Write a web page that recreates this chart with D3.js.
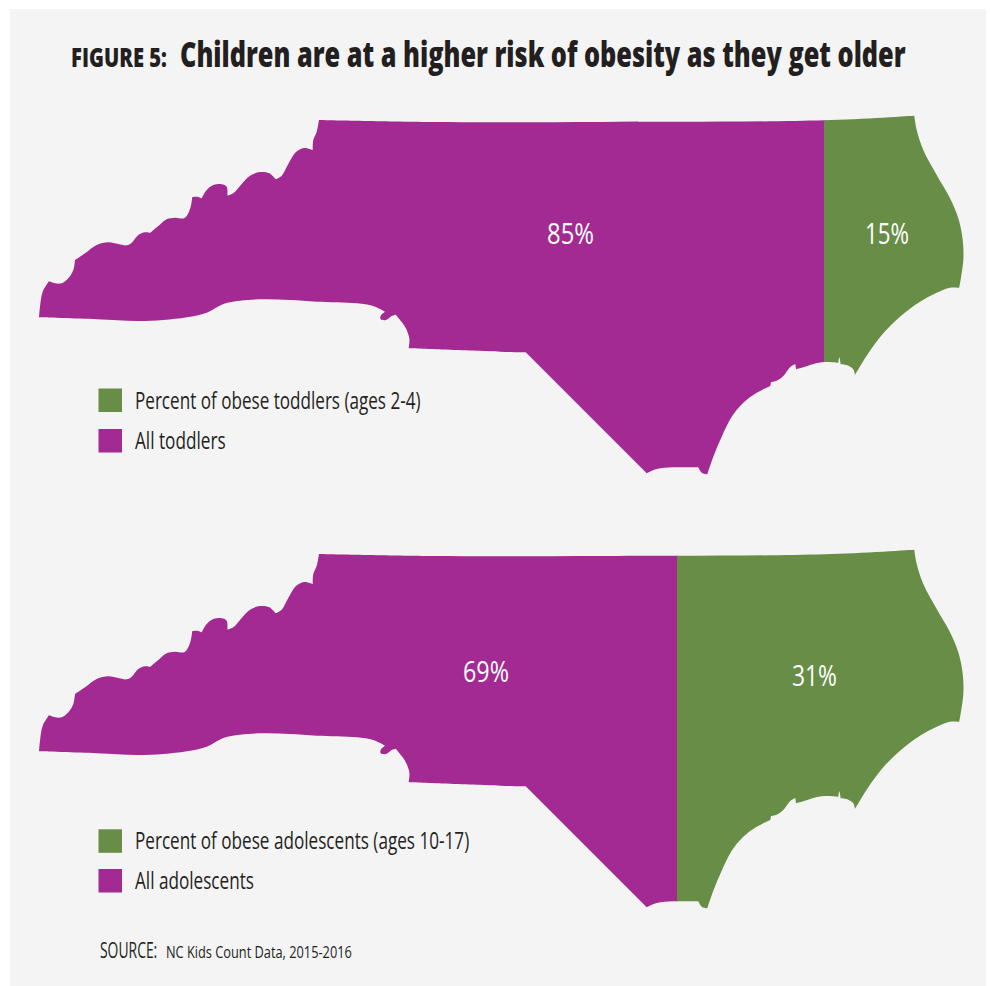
<!DOCTYPE html>
<html>
<head>
<meta charset="utf-8">
<script src="https://cdn.jsdelivr.net/npm/d3@7"></script>
<style>
html,body{margin:0;padding:0;background:#fff;}
svg{display:block;}
text{font-family:"Open Sans","Noto Sans",sans-serif;}
</style>
</head>
<body>
<div id="chart"></div>
<script>
// ---- data ----
const panels = ["toddlers", "adolescents"];
const obesePct = [15, 31];
const allPct = [85, 69];
const obeseLegend = ["Percent of obese toddlers (ages 2-4)", "Percent of obese adolescents (ages 10-17)"];
const allLegend = ["All toddlers", "All adolescents"];
const titleLead = "FIGURE 5:";
const titleMain = "Children are at a higher risk of obesity as they get older";
const sourceLead = "SOURCE:";
const sourceMain = "NC Kids Count Data, 2015-2016";

// State outline in map units; each run is smooth, corners sit between runs.
const outlineRuns = [
  [[39,317.3],[40,306.7],[42.7,291.7],[49,281.3]],
  [[49,281.3],[55,283.3],[61.7,283.3],[68.3,278.3],[73.3,270],[75,260]],
  [[75,260],[85,253.3],[96.7,245],[108.3,242.3],[118.3,244],[126.7,245.3],[131.7,242.7],[138.3,235],[145,232.3],[150,233]],
  [[150,233],[158.3,226],[166.7,219.3],[175,217.7],[184,218.3],[187.3,215],[190.7,206.7],[192.3,197]],
  [[192.3,197],[196.7,196.7],[201.7,198.3]],
  [[201.7,198.3],[206.7,190],[213.3,185],[221.7,184.3],[226.7,186.7],[227.3,195.7]],
  [[227.3,195.7],[233.3,193.3],[241.7,184],[250,175.7],[260,172],[269.3,173.3],[275.7,179.3]],
  [[275.7,179.3],[281.7,175.7],[288.3,164],[295.7,152.3],[304,148],[312.7,150]],
  [[312.7,150],[313.3,140],[316.7,131.7],[319,120]],
  [[319,120],[430,122],[600,122],[824.3,120.3],[914.3,115.7]],
  [[914.3,115.7],[916.7,130],[923.3,150],[936.7,175],[950,198.3],[958.3,218.3],[962.7,240],[963.3,260],[959.3,287.7]],
  [[959.3,287.7],[950,287.7],[936.7,292.7],[920,301.7],[900,316.7],[883.3,333.3],[868.3,353.3],[855,375]],
  [[855,375],[853.3,369.3],[848.3,365.7],[840.7,364.3]],
  [[840.7,364.3],[839.3,357.3],[838.3,362.7]],
  [[838.3,362.7],[824.3,362],[813.3,364],[803.3,367.3],[796,369.3]],
  [[796,369.3],[795.3,364]],
  [[795.3,364],[790,367.3],[783.3,376],[776.7,380.7],[771,382]],
  [[771,382],[770.3,386]],
  [[770.3,386],[756.7,392.7],[743.3,402.7],[731.7,416.7],[721.7,436.7],[713.3,456.7],[707.3,474.3]],
  [[707.3,474.3],[701.7,472.7],[698.3,467.3]],
  [[698.3,467.3],[673.3,467.3],[656.7,469],[646.7,473.3]],
  [[646.7,473.3],[525.7,352.3]],
  [[525.7,352.3],[500,351.7],[408.7,348.3]],
  [[408.7,348.3],[409.3,338.3],[405,326.7],[395.7,314.7]],
  [[395.7,314.7],[391.7,316],[386,320],[380.7,319.3],[380.7,315.7],[385,311.7]],
  [[385,311.7],[373.3,306],[356.7,303.3],[316.7,301.7],[290,300],[263.3,299.3],[240,300.7],[223.3,304],[206.7,312.7],[186.7,317.3],[163.3,320],[136.7,321],[96.7,319.3],[39,317.3]]
];

// ---- style and layout ----
const PURPLE = "#A32A92", GREEN = "#678D46", PANEL = "#F4F4F4", INK = "#231F20";
const width = 990, height = 986;
const mapYTop = [115.7, 549.7];
const labelPos = [
  {all:[547,594,243.5], obese:[865,909,243.5]},
  {all:[463,509,681.5], obese:[792,837,686]}
];
const legendY = [[400.5,441],[841.3,881]];
const legendEnds = [[420.7,225.7],[469.3,254]];

const svg = d3.select("#chart").append("svg").attr("width", width).attr("height", height);
svg.append("rect").attr("x",10).attr("y",9).attr("width",976).attr("height",977).attr("fill",PANEL);

// Draws text and squeezes it horizontally so it spans x to x2 (condensed look).
function fitted(x, y, size, weight, str, x2, fill){
  const t = svg.append("text").attr("font-size",size).attr("font-weight",weight)
    .attr("fill",fill||INK).text(str);
  const w = t.node().getComputedTextLength();
  t.attr("transform",`translate(${x},${y}) scale(${(x2-x)/w},1)`);
  return t;
}

fitted(71, 66.7, 27, 800, titleLead, 167);
fitted(180, 66.7, 35, 800, titleMain, 906);

// percent scale: whole state width = 100%
const pct = d3.scaleLinear().domain([0,100]).range([39,963]);
const mapX = d3.scaleLinear().domain([39,963]).range([39,963]);
const line = d3.line().curve(d3.curveCatmullRom.alpha(0.5));

panels.forEach((p,i)=>{
  const mapY = d3.scaleLinear().domain([115.7,475]).range([mapYTop[i], mapYTop[i]+359.3]);
  const pathD = outlineRuns.map((run,k)=>{
    const s = line(run.map(d=>[mapX(d[0]), mapY(d[1])]));
    return k===0 ? s : "L"+s.slice(1);
  }).join("")+"Z";
  const splitX = Math.round(pct(allPct[i]));
  svg.append("defs").append("clipPath").attr("id","obese-"+p).append("rect")
    .attr("x",splitX).attr("y",0).attr("width",width-splitX).attr("height",height);
  svg.append("defs").append("clipPath").attr("id","all-"+p).append("rect")
    .attr("x",0).attr("y",0).attr("width",splitX+1).attr("height",height);
  svg.append("path").attr("d",pathD).attr("fill",PURPLE).attr("clip-path",`url(#all-${p})`);
  svg.append("path").attr("d",pathD).attr("fill",GREEN).attr("clip-path",`url(#obese-${p})`);

  const wt = labelPos[i];
  fitted(wt.all[0], wt.all[2], 30, 400, allPct[i]+"%", wt.all[1], "#fff");
  fitted(wt.obese[0], wt.obese[2], 30, 400, obesePct[i]+"%", wt.obese[1], "#fff");

  // legend
  [[GREEN, obeseLegend[i], legendEnds[i][0]],[PURPLE, allLegend[i], legendEnds[i][1]]].forEach((e,j)=>{
    svg.append("rect").attr("x",98.5).attr("y",legendY[i][j]-12).attr("width",23.5).attr("height",23.5).attr("fill",e[0]);
    fitted(135, legendY[i][j]+8, 24, 400, e[1], e[2]);
  });
});

fitted(100, 958, 21, 400, sourceLead, 157.3);
fitted(166, 958, 17, 400, sourceMain, 352);
</script>
</body>
</html>
